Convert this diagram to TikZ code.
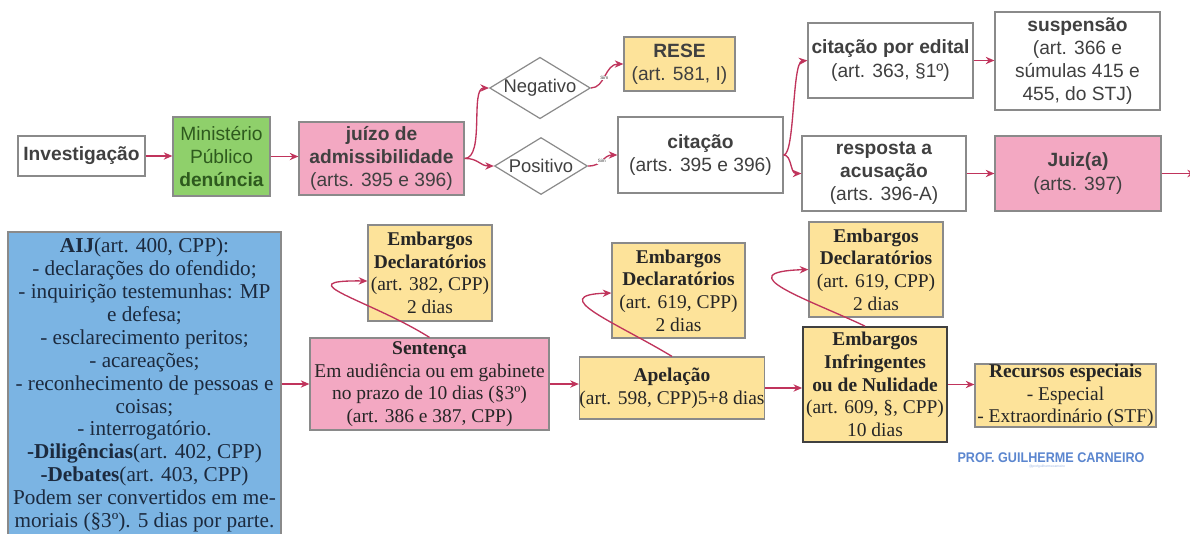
\documentclass[tikz,border=0pt]{standalone}
\usepackage{fontspec}
\setmainfont{Liberation Sans}
\newfontfamily\serifb{Liberation Serif}
\usetikzlibrary{shapes.geometric,arrows.meta,calc}
\newdimen\px \px=0.75pt
\definecolor{bordergray}{HTML}{8A8A8A}
\definecolor{txt}{HTML}{404040}
\definecolor{arrowc}{HTML}{C0345C}
\definecolor{pinkf}{HTML}{F3A8C2}
\definecolor{yellowf}{HTML}{FDE39A}
\definecolor{greenf}{HTML}{8FD06B}
\definecolor{greent}{HTML}{2E5A1E}
\definecolor{bluef}{HTML}{7BB4E3}
\definecolor{bluet}{HTML}{1C2A3E}
\definecolor{wmark}{HTML}{5B86CF}
\tikzset{
  sz/.style 2 args={minimum width=#1*\px, minimum height=#2*\px},
  box/.style={draw=bordergray, line width=0.9pt, align=center, inner sep=0pt, fill=white, text=txt,
    font=\fontsize{14.4}{17.3}\selectfont},
  sbox/.style={box, font=\serifb\fontsize{14.6}{17}\selectfont, text=black!85},
  dmd/.style={diamond, draw=bordergray, line width=0.9pt, fill=white, shape aspect=1.64, inner sep=0pt,
    text=txt, font=\fontsize{13.8}{16}\selectfont},
  arr/.style={draw=arrowc, line width=1pt, -{Stealth[length=6.5pt,width=5.5pt]}},
  lbl/.style={font=\fontsize{3.5}{4}\selectfont, fill=white, inner sep=0.4pt, text=txt}
}
\begin{document}
\begin{tikzpicture}[x=0.75pt,y=-0.75pt]
\useasboundingbox (0,0) rectangle (1190,533);
\fill[white] (0,0) rectangle (1190,533);

% top row
\node[box, sz={127}{40}] (inv) at (81.5,156) {\textbf{Investigação}};
\node[box, sz={97}{79}, fill=greenf, text=greent] (mp) at (221.5,156.5) {Ministério\\Público\\\textbf{denúncia}};
\node[box, sz={165}{73}, fill=pinkf] (juizo) at (381.5,158.5) {\textbf{juízo de}\\\textbf{admissibilidade}\\(arts. 395 e 396)};
\node[dmd, sz={95}{58}] (neg) at (540,88) {Negativo};
\node[dmd, sz={93}{57}] (pos) at (541,166) {Positivo};
\node[box, sz={111}{54}, fill=yellowf] (rese) at (679.5,64) {\textbf{RESE}\\(art. 581, I)};
\node[box, sz={165}{76}] (cit) at (700.5,155) {\textbf{citação}\\(arts. 395 e 396)};
\node[box, sz={165}{75}] (edital) at (890.5,60.5) {\textbf{citação por edital}\\(art. 363, §1º)};
\node[box, sz={165}{98}] (susp) at (1077.5,61) {\textbf{suspensão}\\(art. 366 e\\súmulas 415 e\\455, do STJ)};
\node[box, sz={164}{75}] (resp) at (884,173.5) {\textbf{resposta a}\\\textbf{acusação}\\(arts. 396-A)};
\node[box, sz={166}{75}, fill=pinkf] (juiz) at (1078,173.5) {\textbf{Juiz(a)}\\(arts. 397)};
\coordinate (offr) at (1196,173.5);

\draw[arr] (inv.east) -- (mp.west |- inv.east);
\draw[arr] (mp.east) -- (juizo.west |- mp.east);
\draw[arr] (juizo.east) .. controls (485,158) and (470,88) .. (neg.west);
\draw[arr] (juizo.east) .. controls (478,158) and (480,166) .. (pos.west);
\draw[arr] (neg.east) .. controls (605,88) and (605,64) .. node[lbl, pos=0.45] {Sim} (rese.west);
\draw[arr] (pos.east) .. controls (603,166) and (603,155) .. node[lbl, pos=0.45] {Sim} (cit.west);
\draw[arr] (cit.east) .. controls (795,155) and (792,62) .. (edital.west);
\draw[arr] (cit.east) .. controls (792,155) and (790,173.5) .. (resp.west);
\draw[arr] (edital.east) -- (susp.west |- edital.east);
\draw[arr] (resp.east) -- (juiz.west);
\draw[arr] (juiz.east) -- (offr);

% bottom row
\node[box, sz={273}{306}, fill=bluef, text=bluet, font=\serifb\fontsize{15.9}{17.2}\selectfont] (aij) at (144.5,385)
 {\textbf{AIJ}(art. 400, CPP):\\
 - declarações do ofendido;\\
 - inquirição testemunhas: MP\\
 e defesa;\\
 - esclarecimento peritos;\\
 - acareações;\\
 - reconhecimento de pessoas e\\
 coisas;\\
 - interrogatório.\\
 \textbf{-Diligências}(art. 402, CPP)\\
 \textbf{-Debates}(art. 403, CPP)\\
 Podem ser convertidos em me-\\
 moriais (§3º). 5 dias por parte.};
\node[sbox, sz={239}{92}, fill=pinkf] (sent) at (429.5,384) {\textbf{Sentença}\\Em audiência ou em gabinete\\no prazo de 10 dias (§3º)\\(art. 386 e 387, CPP)};
\node[sbox, sz={124}{96}, fill=yellowf] (ed1) at (430,273) {\textbf{Embargos}\\\textbf{Declaratórios}\\(art. 382, CPP)\\2 dias};
\node[sbox, sz={184}{62}, fill=yellowf] (apel) at (672,388) {\textbf{Apelação}\\(art. 598, CPP)5+8 dias};
\node[sbox, sz={133}{95}, fill=yellowf] (ed2) at (678.5,290.5) {\textbf{Embargos}\\\textbf{Declaratórios}\\(art. 619, CPP)\\2 dias};
\node[sbox, sz={144}{115}, fill=yellowf, draw=black!75, line width=1.3pt] (ei) at (875,384.5) {\textbf{Embargos}\\\textbf{Infringentes}\\\textbf{ou de Nulidade}\\(art. 609, §, CPP)\\10 dias};
\node[sbox, sz={134}{95}, fill=yellowf] (ed3) at (876,269.5) {\textbf{Embargos}\\\textbf{Declaratórios}\\(art. 619, CPP)\\2 dias};
\node[sbox, sz={181}{60}, fill=yellowf] (rec) at (1065.5,395.5) {\textbf{Recursos especiais}\\- Especial\\- Extraordinário (STF)};

\draw[arr] (aij.east |- sent.west) -- (sent.west);
\draw[arr] (sent.east) -- (sent.east -| apel.west);
\draw[arr] (apel.east) -- (apel.east -| ei.west);
\draw[arr] (ei.east) -- (ei.east -| rec.west);
\draw[arr] (sent.north) .. controls (370,300) and (285,280) .. (ed1.west |- 0,281);
\draw[arr] (apel.north) .. controls (615,322) and (545,295) .. (ed2.west |- 0,293);
\draw[arr] ($(ei.north)+(-10,0)$) .. controls (810,300) and (725,272) .. (ed3.west);

% watermark
\node[text=wmark, font=\fontsize{10.5}{11}\selectfont\bfseries, inner sep=0pt] (wm) at (1051,458) {\scalebox{0.9}[1]{PROF. GUILHERME CARNEIRO}};
\node[text=wmark!60, font=\fontsize{2.5}{3}\selectfont, inner sep=0pt] (wmh) at (1047,467) {@profguilhermecarneiro};
\end{tikzpicture}
\end{document}
